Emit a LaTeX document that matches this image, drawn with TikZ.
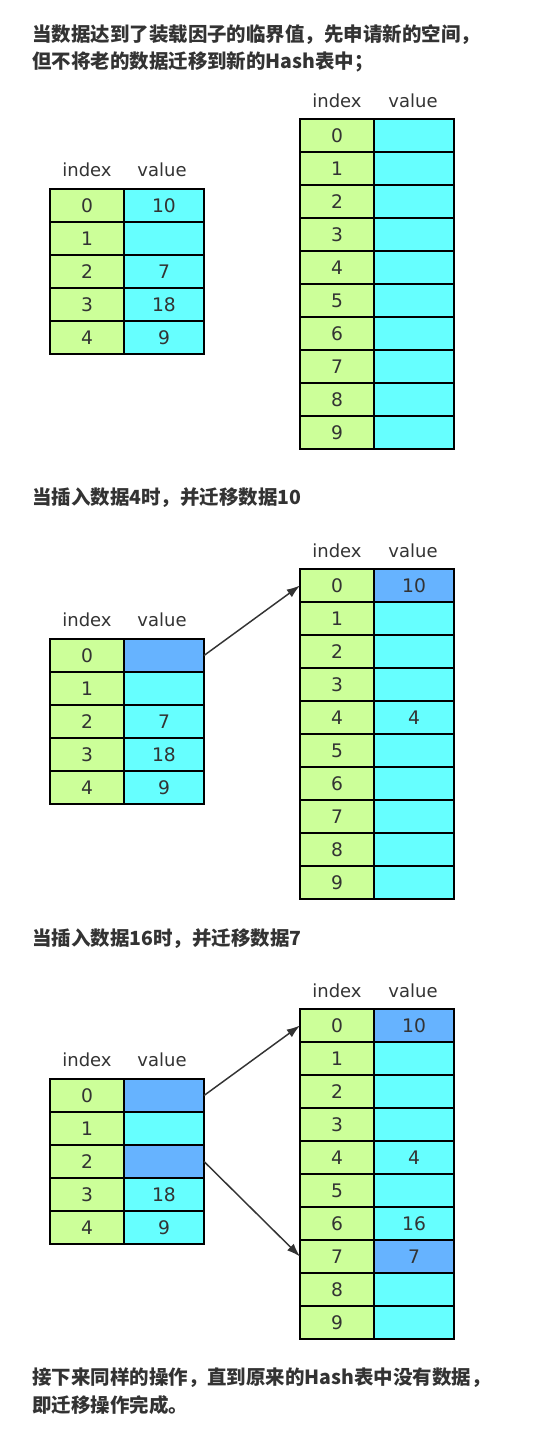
\documentclass[tikz,border=0pt]{standalone}
\usepackage{fontspec}
\setmainfont{DejaVu Sans}
\newfontfamily\cjk{Noto Sans CJK SC}
\usetikzlibrary{arrows.meta}
\definecolor{cg}{HTML}{CCFF99}
\definecolor{cc}{HTML}{66FFFF}
\definecolor{cb}{HTML}{66B3FF}
\definecolor{tx}{HTML}{333333}
\begin{document}
\begin{tikzpicture}[x=0.75pt,y=-0.75pt,
 idx/.style={draw=black,line width=1.6pt,fill=cg,minimum width=55.5pt,minimum height=24.75pt,inner sep=0pt,outer sep=0pt,anchor=north west,text=tx,font=\fontsize{14}{16}\selectfont},
 val/.style={idx,fill=cc,minimum width=60pt},
 valh/.style={val,fill=cb},
 hdr/.style={text=tx,font=\fontsize{13.5}{16}\selectfont},
 ttl/.style={anchor=west,text=tx,font=\cjk\bfseries\fontsize{14.6}{17}\selectfont,inner sep=0pt},
 arr/.style={draw=tx,line width=1.1pt,-{Latex[length=10pt,width=7pt]}}]
\useasboundingbox[fill=white] (0,0) rectangle (542,1430);

% ---------- Section 1 ----------
\node[ttl] (t1a) at (32,35) {当数据达到了装载因子的临界值，先申请新的空间，};
\node[ttl] (t1b) at (32,62) {但不将老的数据迁移到新的Hash表中；};
\node[hdr] (h1si) at (87,170) {index};
\node[hdr] (h1sv) at (162,170) {value};
\foreach \i/\v/\s in {0/10/val,1//val,2/7/val,3/18/val,4/9/val}{
  \node[idx] (s1i\i) at (50,{189+33*\i}) {\i};
  \node[\s] (s1v\i) at (124,{189+33*\i}) {\v};
}
\node[hdr] (h1bi) at (337,101) {index};
\node[hdr] (h1bv) at (413,101) {value};
\foreach \i/\v/\s in {0//val,1//val,2//val,3//val,4//val,5//val,6//val,7//val,8//val,9//val}{
  \node[idx] (b1i\i) at (300,{119+33*\i}) {\i};
  \node[\s] (b1v\i) at (374,{119+33*\i}) {\v};
}

% ---------- Section 2 ----------
\node[ttl] (t2) at (32,498) {当插入数据4时，并迁移数据10};
\node[hdr] (h2si) at (87,620) {index};
\node[hdr] (h2sv) at (162,620) {value};
\foreach \i/\v/\s in {0//valh,1//val,2/7/val,3/18/val,4/9/val}{
  \node[idx] (s2i\i) at (50,{639+33*\i}) {\i};
  \node[\s] (s2v\i) at (124,{639+33*\i}) {\v};
}
\node[hdr] (h2bi) at (337,551) {index};
\node[hdr] (h2bv) at (413,551) {value};
\foreach \i/\v/\s in {0/10/valh,1//val,2//val,3//val,4/4/val,5//val,6//val,7//val,8//val,9//val}{
  \node[idx] (b2i\i) at (300,{569+33*\i}) {\i};
  \node[\s] (b2v\i) at (374,{569+33*\i}) {\v};
}
\draw[arr] (s2v0.east) -- (b2i0.west);

% ---------- Section 3 ----------
\node[ttl] (t3) at (32,939) {当插入数据16时，并迁移数据7};
\node[hdr] (h3si) at (87,1060) {index};
\node[hdr] (h3sv) at (162,1060) {value};
\foreach \i/\v/\s in {0//valh,1//val,2//valh,3/18/val,4/9/val}{
  \node[idx] (s3i\i) at (50,{1079+33*\i}) {\i};
  \node[\s] (s3v\i) at (124,{1079+33*\i}) {\v};
}
\node[hdr] (h3bi) at (337,991) {index};
\node[hdr] (h3bv) at (413,991) {value};
\foreach \i/\v/\s in {0/10/valh,1//val,2//val,3//val,4/4/val,5//val,6/16/val,7/7/valh,8//val,9//val}{
  \node[idx] (b3i\i) at (300,{1009+33*\i}) {\i};
  \node[\s] (b3v\i) at (374,{1009+33*\i}) {\v};
}
\draw[arr] (s3v0.east) -- (b3i0.west);
\draw[arr] (s3v2.east) -- (b3i7.west);

% ---------- Closing text ----------
\node[ttl] (t4a) at (32,1378) {接下来同样的操作，直到原来的Hash表中没有数据，};
\node[ttl] (t4b) at (32,1405) {即迁移操作完成。};
\end{tikzpicture}
\end{document}
